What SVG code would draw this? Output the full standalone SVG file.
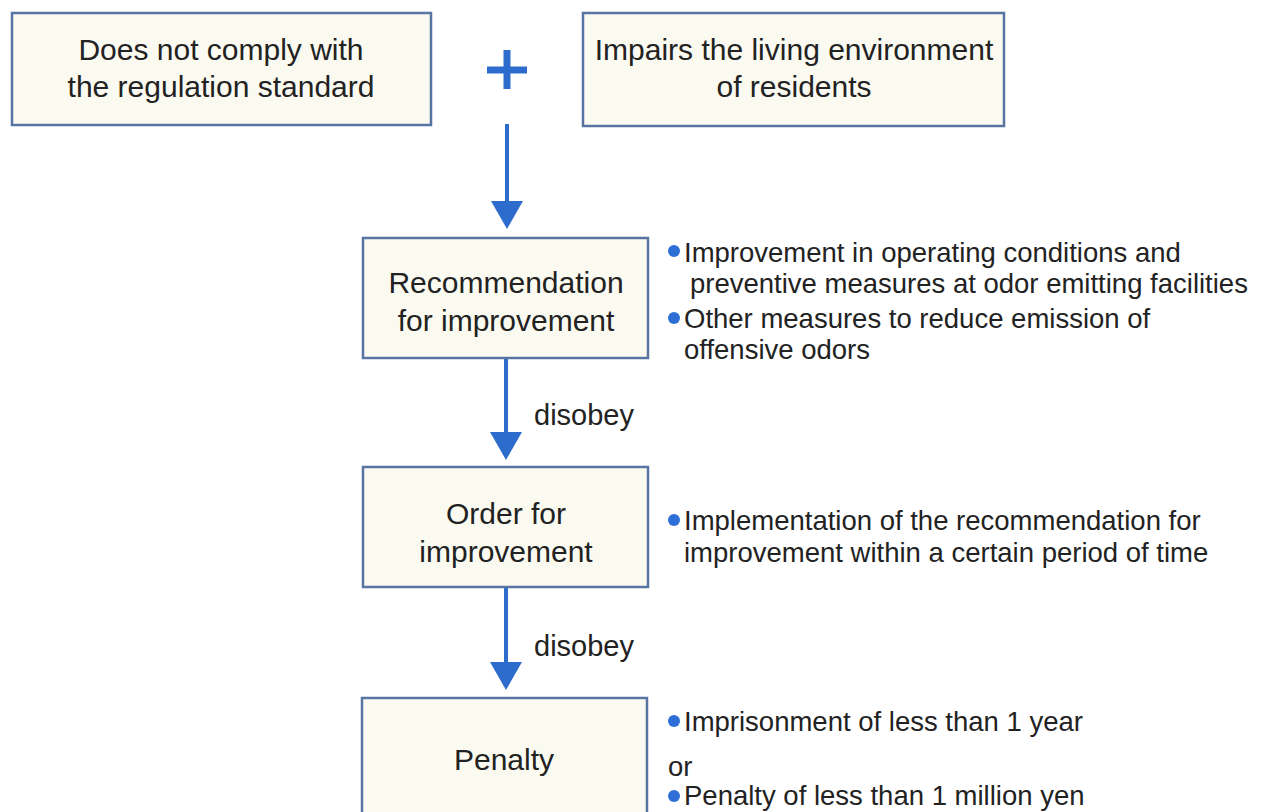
<svg xmlns="http://www.w3.org/2000/svg" width="1268" height="812" viewBox="0 0 1268 812">
<style>
.box{fill:#fbfaf1;stroke:#5874a2;stroke-width:2.5}
.t{font-family:"Liberation Sans",Arial,sans-serif;fill:#222;}
.big{font-size:30px;text-anchor:middle}
.sm{font-size:27.5px}
.lbl{font-size:29px}
.conn{stroke:#2d6ccc;stroke-width:4;fill:none}
.dot{fill:#2d6fd6}
</style>
<defs>
<marker id="ah" markerWidth="28" markerHeight="32" refX="0" refY="16" orient="auto" markerUnits="userSpaceOnUse">
<path d="M0,0 L28,16 L0,32 Z" fill="#2d6ccc"/>
</marker>
</defs>
<rect width="1268" height="812" fill="#ffffff"/>
<g id="n1"><rect class="box" x="12" y="13" width="419" height="112"/>
<text class="t big" x="221" y="60">Does not comply with</text>
<text class="t big" x="221" y="97">the regulation standard</text></g>
<g id="plus"><path d="M487,70 H527 M507,50 V89" stroke="#2d6ccc" stroke-width="7"/></g>
<g id="n2"><rect class="box" x="583" y="13" width="421" height="113"/>
<text class="t big" x="794" y="60">Impairs the living environment</text>
<text class="t big" x="794" y="97">of residents</text></g>
<g id="connectors">
<line class="conn" x1="507" y1="124" x2="507" y2="201" marker-end="url(#ah)"/>
<line class="conn" x1="506" y1="359" x2="506" y2="432" marker-end="url(#ah)"/>
<line class="conn" x1="506" y1="587" x2="506" y2="662" marker-end="url(#ah)"/>
<text class="t lbl" x="534" y="425">disobey</text>
<text class="t lbl" x="534" y="656">disobey</text>
</g>
<g id="n3"><rect class="box" x="363" y="238" width="285" height="120"/>
<text class="t big" x="506" y="293">Recommendation</text>
<text class="t big" x="506" y="331">for improvement</text></g>
<g id="n3notes">
<circle class="dot" cx="674" cy="251" r="6"/>
<text class="t sm" x="684" y="262">Improvement in operating conditions and</text>
<text class="t sm" x="690" y="293">preventive measures at odor emitting facilities</text>
<circle class="dot" cx="674" cy="318" r="6"/>
<text class="t sm" x="684" y="328">Other measures to reduce emission of</text>
<text class="t sm" x="684" y="359">offensive odors</text>
</g>
<g id="n4"><rect class="box" x="363" y="467" width="285" height="120"/>
<text class="t big" x="506" y="524">Order for</text>
<text class="t big" x="506" y="562">improvement</text></g>
<g id="n4notes">
<circle class="dot" cx="674" cy="520" r="6"/>
<text class="t sm" x="684" y="530">Implementation of the recommendation for</text>
<text class="t sm" x="684" y="562">improvement within a certain period of time</text>
</g>
<g id="n5"><rect class="box" x="362" y="698" width="285" height="130"/>
<text class="t big" x="504" y="770">Penalty</text></g>
<g id="n5notes">
<circle class="dot" cx="674" cy="721" r="6"/>
<text class="t sm" x="684" y="731">Imprisonment of less than 1 year</text>
<text class="t sm" x="668" y="776">or</text>
<circle class="dot" cx="674" cy="796" r="6"/>
<text class="t sm" x="684" y="805">Penalty of less than 1 million yen</text>
</g>
</svg>
